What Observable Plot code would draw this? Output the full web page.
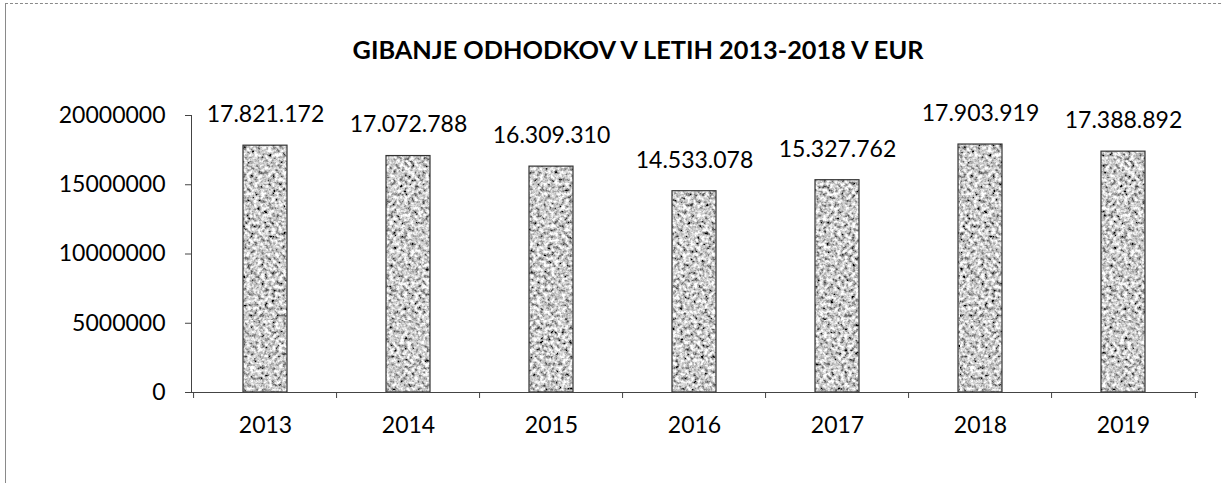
<!DOCTYPE html>
<html>
<head>
<meta charset="utf-8">
<script src="https://cdn.jsdelivr.net/npm/d3@7"></script>
<script src="https://cdn.jsdelivr.net/npm/@observablehq/plot@0.6"></script>
<style>
  html, body { margin: 0; padding: 0; background: #fff; }
  body { width: 1223px; height: 483px; position: relative; overflow: hidden; font-family: Lato, "Open Sans", sans-serif; }
  #frame { position: absolute; left: 5px; top: 3px; width: 1240px; height: 500px;
           border-left: 1px solid #8a8a8a; border-top: 1px dashed #8a8a8a; }
  #title { position: absolute; left: 0; width: 1276px; top: 34px; text-align: center;
           font-family: Lato, sans-serif; font-weight: 700; font-size: 25.3px; color: #000; line-height: 30px; z-index: 2; }
  #chart { position: absolute; left: 0; top: 0; }
</style>
</head>
<body>
<div id="frame"></div>
<div id="title">GIBANJE ODHODKOV V LETIH 2013-2018 V EUR</div>
<svg width="0" height="0" style="position:absolute">
  <defs>
    <filter id="grain" x="0" y="0" width="1" height="1" filterUnits="objectBoundingBox">
      <feTurbulence type="fractalNoise" baseFrequency="0.28" numOctaves="4" seed="7" result="n"/>
      <feColorMatrix in="n" type="matrix"
        values="2.0 0 0 0 -0.4  2.0 0 0 0 -0.4  2.0 0 0 0 -0.4  0 0 0 0 1"/>
    </filter>
    <pattern id="grainPat" patternUnits="userSpaceOnUse" width="240" height="320">
      <rect width="240" height="320" filter="url(#grain)"/>
    </pattern>
  </defs>
</svg>
<div id="chart"></div>
<script>
const years = ["2013", "2014", "2015", "2016", "2017", "2018", "2019"];
const values = [17821172, 17072788, 16309310, 14533078, 15327762, 17903919, 17388892];
const valueLabels = ["17.821.172", "17.072.788", "16.309.310", "14.533.078", "15.327.762", "17.903.919", "17.388.892"];
const yTicks = [0, 5000000, 10000000, 15000000, 20000000];

const data = years.map((year, i) => ({year, value: values[i], label: valueLabels[i]}));

const W = 1223, H = 483;
const mL = 191, mR = 25, mT = 115, mB = 91;
const bw = (W - mL - mR) / years.length;

const chart = Plot.plot({
  width: W,
  height: H,
  marginLeft: mL,
  marginRight: mR,
  marginTop: mT,
  marginBottom: mB,
  style: {fontFamily: "Lato, sans-serif", fontSize: "23px", color: "#000", background: "transparent", overflow: "visible"},
  x: {type: "band", domain: years, padding: 0.69, paddingOuter: 0.345, align: 0.5, label: null},
  y: {domain: [0, 20000000], label: null},
  marks: [
    Plot.barY(data, {x: "year", y: "value", fill: "url(#grainPat)", stroke: "#333", strokeWidth: 1.2}),
    Plot.frame({anchor: "left", stroke: "#444"}),
    Plot.ruleY([0], {stroke: "#444"}),
    Plot.ruleX(data, {x: "year", dx: -bw / 2, y1: 0, y2: 0, insetBottom: -6, stroke: "#444"}),
    Plot.ruleX(data.slice(-1), {x: "year", dx: bw / 2, y1: 0, y2: 0, insetBottom: -6, stroke: "#444"}),
    Plot.axisY({ticks: yTicks, tickFormat: d => String(d), tickSize: 6, tickPadding: 20, fontSize: 23, stroke: "#444", fill: "#000"}),
    Plot.axisX({tickSize: 0, tickPadding: 24, fontSize: 23, fill: "#000"}),
    Plot.text(data, {x: "year", y: "value", text: "label", dy: -31, fontSize: 23, fill: "#000"})
  ]
});
document.getElementById("chart").appendChild(chart);
</script>
</body>
</html>
